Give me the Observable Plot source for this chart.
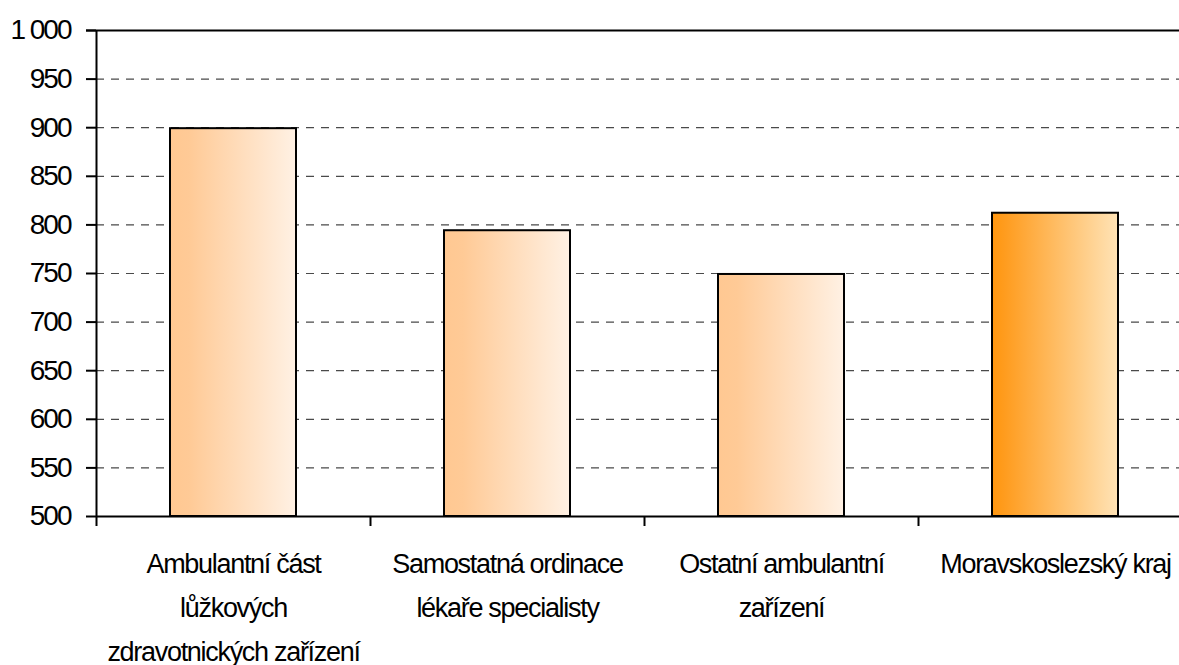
<!DOCTYPE html>
<html>
<head>
<meta charset="utf-8">
<script src="https://cdn.jsdelivr.net/npm/d3@7"></script>
<script src="https://cdn.jsdelivr.net/npm/@observablehq/plot@0.6"></script>
<style>
  html, body { margin: 0; padding: 0; background: #fff; overflow: hidden; }
  #chart svg { display: block; }
  #chart svg .ytl text { letter-spacing: -2px; }
  #chart svg .xtl text { letter-spacing: -1.3px; }
</style>
</head>
<body>
<div id="chart"></div>
<script>
const categories = [
  "Ambulantní část\nlůžkových\nzdravotnických zařízení",
  "Samostatná ordinace\nlékaře specialisty",
  "Ostatní ambulantní\nzařízení",
  "Moravskoslezský kraj"
];
const values = [899, 794, 749, 812];
const highlighted = [false, false, false, true];
const yTicks = [500, 550, 600, 650, 700, 750, 800, 850, 900, 950, 1000];
const yTickLabels = ["500", "550", "600", "650", "700", "750", "800", "850", "900", "950", "1 000"];

const data = categories.map((c, i) => ({category: c, value: values[i], hi: highlighted[i]}));

const W = 1179, H = 665;
const xRange = [96, 1192];
const step = (xRange[1] - xRange[0]) / categories.length;
const FONT = "'Liberation Sans', Arial, sans-serif";

const defs = () => {
  const d = d3.create("svg:defs");
  const g1 = d.append("linearGradient").attr("id", "gradA").attr("x1", "0").attr("x2", "1").attr("y1", "0").attr("y2", "0");
  g1.append("stop").attr("offset", "0").attr("stop-color", "#FFC892");
  g1.append("stop").attr("offset", "0.15").attr("stop-color", "#FFCA96");
  g1.append("stop").attr("offset", "1").attr("stop-color", "#FFF1E4");
  const g2 = d.append("linearGradient").attr("id", "gradB").attr("x1", "0").attr("x2", "1").attr("y1", "0").attr("y2", "0");
  g2.append("stop").attr("offset", "0").attr("stop-color", "#FF960F");
  g2.append("stop").attr("offset", "0.1").attr("stop-color", "#FF9C1E");
  g2.append("stop").attr("offset", "1").attr("stop-color", "#FFE3B6");
  return d.node();
};

const chart = Plot.plot({
  width: W,
  height: H,
  marginTop: 30,
  marginBottom: 149,
  marginLeft: 96,
  marginRight: 0,
  style: {fontFamily: FONT, background: "#fff", overflow: "hidden", color: "#000"},
  x: {type: "band", domain: categories, range: xRange, paddingInner: 0.54, paddingOuter: 0.27, axis: null},
  y: {domain: [500, 1000], axis: null},
  marks: [
    defs,
    Plot.ruleY(yTicks.filter(v => v > 500 && v < 1000), {y: d => d, stroke: "#4a4a4a", strokeWidth: 1.2, strokeDasharray: "8,7"}),
    Plot.ruleY([1000], {y: d => d, stroke: "#000", strokeWidth: 2, insetLeft: -10}),
    Plot.barY(data.filter(d => !d.hi), {x: "category", y1: 500, y2: "value", fill: "url(#gradA)", stroke: "#000", strokeWidth: 2}),
    Plot.barY(data.filter(d => d.hi), {x: "category", y1: 500, y2: "value", fill: "url(#gradB)", stroke: "#000", strokeWidth: 2}),
    Plot.ruleY([500], {y: d => d, stroke: "#000", strokeWidth: 2}),
    Plot.axisY({
      ticks: yTicks,
      tickSize: 10,
      tickPadding: 16,
      tickFormat: (d) => yTickLabels[yTicks.indexOf(d)],
      fontSize: 28,
      strokeWidth: 2,
      label: null,
      className: "ytl"
    }),
    // category boundary ticks + y axis line
    Plot.ruleX(categories, {x: d => d, dx: -step / 2, y1: (d, i) => i === 0 ? 1000 : 500, y2: 500, insetBottom: -10, stroke: "#000", strokeWidth: 2}),
    Plot.text(categories, {x: d => d, y: 500, text: d => d, lineAnchor: "top", dy: 25, lineHeight: 1.64, fontSize: 27, fill: "#000", className: "xtl"})
  ]
});

document.getElementById("chart").appendChild(chart);
</script>
</body>
</html>
